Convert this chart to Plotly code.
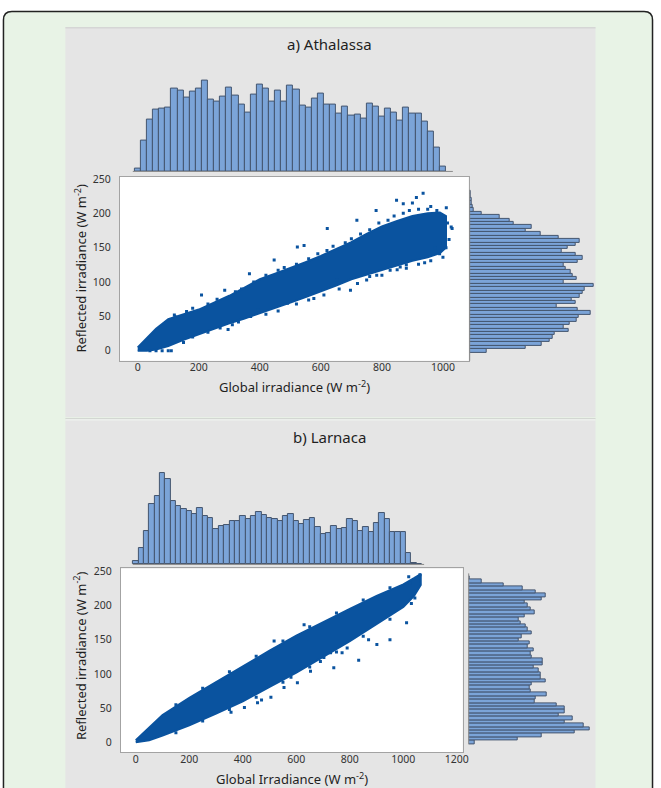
import plotly.graph_objects as go

W, H = 661, 788
def fx(p): return p / W
def fy(p): return 1 - p / H

FONT = "Noto Sans, Open Sans, sans-serif"
BLUE = "#0a539f"
BAR_FILL = "#7ba4d8"
BAR_LINE = "#44556e"

# ---------------- data: panel a) Athalassa ----------------
a_top_bin_start, a_top_bin_width = 0, 20
a_top_counts = [10, 93, 157, 187, 190, 192, 249, 243, 224, 240, 249, 274, 216, 210, 225,
                252, 228, 201, 178, 231, 261, 249, 210, 243, 210, 259, 246, 197, 191, 219,
                234, 200, 200, 175, 194, 169, 172, 159, 204, 194, 165, 188, 176, 154, 191,
                175, 175, 151, 121, 73, 15]
a_right_bin_start, a_right_bin_width = 0, 5
a_right_counts = [50, 169, 218, 241, 250, 256, 298, 283, 301, 323, 330, 366, 326, 263, 320,
                  308, 333, 342, 346, 374, 283, 323, 310, 306, 289, 283, 326, 342, 320, 278,
                  296, 320, 333, 269, 213, 169, 188, 133, 120, 91, 36, 12, 8, 6, 5, 3, 2]
# dense band outline (upper edge left->right, lower edge right->left)
a_band_x = [0, 30, 60, 100, 150, 200, 250, 300, 350, 400, 450, 500, 550, 600, 650, 700, 750,
            800, 850, 900, 950, 990, 1010,
            1010, 990, 950, 900, 850, 800, 750, 700, 650, 600, 550, 500, 450, 400, 350, 300,
            250, 200, 150, 100, 60, 30, 0]
a_band_y = [5, 18, 32, 46, 53, 60, 70, 80, 92, 104, 112, 120, 129, 138, 148, 158, 170,
            181, 189, 196, 200, 201, 196,
            150, 142, 136, 131, 124, 117, 110, 104, 95, 86, 78, 70, 62, 55, 47, 40,
            32, 25, 16, 7, 2, 0, 0]
# scattered points outside / along the dense band
a_pts_x = [935, 913, 848, 870, 781, 1011, 1027, 718, 621, 545, 523, 447, 366, 285, 209, 122,
           697, 783, 827, 653, 577, 491, 393, 296, 40, 60, 80, 100, 110, 1000, 989, 960, 900,
           880, 940, 975, 1030, 860, 760,
           120, 160, 180, 230, 260, 320, 340, 380, 420, 460, 480, 520, 560, 590, 620, 640, 680,
           700, 730, 760, 790, 820, 840, 870, 890, 920, 950, 980,
           150, 180, 230, 270, 310, 330, 370, 420, 460, 520, 560, 610, 660, 720, 750, 800, 850,
           880, 920, 960, 1000, 1010, 1020, 1015]
a_pts_y = [229, 223, 219, 214, 204, 208, 180, 190, 178, 153, 151, 132, 112, 88, 81, 50,
           88, 110, 117, 103, 76, 69, 59, 31, 0, 0, 0, 0, 0, 156, 141, 210, 215,
           125, 128, 150, 178, 122, 108,
           52, 57, 62, 68, 75, 86, 90, 100, 110, 117, 121, 126, 134, 141, 146, 152, 157,
           163, 170, 176, 186, 190, 196, 200, 204, 206, 206, 204,
           12, 20, 27, 33, 38, 42, 50, 53, 58, 68, 74, 81, 90, 98, 103, 110, 118,
           120, 126, 131, 136, 150, 162, 186]

# ---------------- data: panel b) Larnaca ----------------
b_top_bin_start, b_top_bin_width = 0, 20
b_top_counts = [10, 49, 102, 182, 206, 274, 256, 191, 175, 167, 162, 152, 169, 145, 139,
                107, 115, 118, 130, 132, 145, 136, 147, 157, 148, 140, 136, 132, 145, 151,
                132, 122, 134, 139, 114, 92, 95, 117, 108, 111, 136, 132, 102, 114, 97,
                124, 154, 138, 98, 98, 98, 34, 4, 2]
b_right_bin_start, b_right_bin_width = 0, 5
b_right_counts = [19, 149, 222, 322, 367, 350, 292, 317, 274, 292, 292, 267, 200, 204, 237,
                  187, 184, 190, 234, 220, 219, 212, 197, 225, 225, 192, 187, 197, 179, 184,
                  152, 162, 191, 179, 174, 159, 152, 170, 200, 187, 179, 169, 222, 234, 204,
                  164, 105, 39, 4]
b_band_x = [0, 50, 100, 200, 300, 400, 500, 600, 700, 800, 900, 1000, 1040, 1065,
            1065, 1040, 1000, 900, 800, 700, 600, 500, 400, 300, 200, 100, 50, 0]
b_band_y = [3, 22, 40, 65, 88, 112, 134, 156, 176, 195, 214, 231, 240, 246,
            230, 214, 198, 173, 148, 125, 102, 81, 60, 42, 25, 10, 3, 0]
b_pts_x = [1043, 901, 833, 740, 790, 771, 703, 653, 604, 554, 505, 455, 406, 356, 728,
           1012, 950, 1062, 1025, 629, 517, 870, 690, 580, 470,
           150, 250, 350, 450, 550, 650, 750, 850, 950, 1020,
           150, 250, 350, 450, 550, 650, 750, 850, 950, 1030]
b_pts_y = [211, 143, 120, 109, 138, 131, 124, 104, 87, 80, 66, 58, 51, 44, 131,
           175, 150, 245, 233, 172, 148, 150, 118, 95, 62,
           55, 79, 103, 126, 148, 169, 189, 208, 226, 242,
           14, 31, 48, 66, 88, 110, 132, 155, 180, 203]

a_xticks = [0, 200, 400, 600, 800, 1000]
b_xticks = [0, 200, 400, 600, 800, 1000, 1200]
yticks = [0, 50, 100, 150, 200, 250]


def centers(start, width, counts):
    return [start + i * width for i in range(len(counts))]


fig = go.Figure()

def bar_marker():
    return dict(color=BAR_FILL, line=dict(color=BAR_LINE, width=1))

# ---- panel a traces
fig.add_trace(go.Scatter(x=a_band_x, y=a_band_y, mode="lines", fill="toself",
                         fillcolor=BLUE, line=dict(color=BLUE, width=2),
                         xaxis="x", yaxis="y", hoverinfo="skip"))
fig.add_trace(go.Scatter(x=a_pts_x, y=a_pts_y, mode="markers",
                         marker=dict(color=BLUE, size=3, symbol="square"),
                         xaxis="x", yaxis="y"))
fig.add_trace(go.Bar(x=centers(a_top_bin_start, a_top_bin_width, a_top_counts), y=a_top_counts,
                     width=a_top_bin_width, marker=bar_marker(), xaxis="x2", yaxis="y2"))
fig.add_trace(go.Bar(y=centers(a_right_bin_start, a_right_bin_width, a_right_counts), x=a_right_counts,
                     orientation="h", width=a_right_bin_width, marker=bar_marker(),
                     xaxis="x3", yaxis="y3"))

# ---- panel b traces
fig.add_trace(go.Scatter(x=b_band_x, y=b_band_y, mode="lines", fill="toself",
                         fillcolor=BLUE, line=dict(color=BLUE, width=2),
                         xaxis="x4", yaxis="y4", hoverinfo="skip"))
fig.add_trace(go.Scatter(x=b_pts_x, y=b_pts_y, mode="markers",
                         marker=dict(color=BLUE, size=3, symbol="square"),
                         xaxis="x4", yaxis="y4"))
fig.add_trace(go.Bar(x=centers(b_top_bin_start, b_top_bin_width, b_top_counts), y=b_top_counts,
                     width=b_top_bin_width, marker=bar_marker(), xaxis="x5", yaxis="y5"))
fig.add_trace(go.Bar(y=centers(b_right_bin_start, b_right_bin_width, b_right_counts), x=b_right_counts,
                     orientation="h", width=b_right_bin_width, marker=bar_marker(),
                     xaxis="x6", yaxis="y6"))

hidden = dict(visible=False, showgrid=False, zeroline=False)
tickfont = dict(family=FONT, size=10.5, color="#333333")

def main_x(dom, rng, ticks, anchor):
    return dict(domain=dom, range=rng, tickvals=ticks, showgrid=False, zeroline=False,
                showline=True, mirror=True, linecolor="#a3a3a3", linewidth=1,
                ticks="", tickfont=tickfont, anchor=anchor, ticklabelstandoff=-3)

def main_y(dom, rng, anchor):
    return dict(domain=dom, range=rng, tickvals=yticks, showgrid=False, zeroline=False,
                showline=True, mirror=True, linecolor="#a3a3a3", linewidth=1,
                ticks="", tickfont=tickfont, anchor=anchor, ticklabelstandoff=6)

# panel a geometry (pixels)
a_x_dom = [fx(121), fx(473)]
a_y_dom = [fy(358), fy(173)]
a_x_rng = [-58.4, 1084.4]
a_y_rng = [-14.45, 252.9]
# panel b geometry
b_x_dom = [fx(122), fx(467)]
b_y_dom = [fy(752), fy(567)]
b_x_rng = [-55.6, 1222]
b_y_rng = [-14.5, 254.3]

shapes = [
    # outer rounded frame
    dict(type="path", xref="paper", yref="paper",
         path=f"M {fx(3.5)},{fy(15)} Q {fx(3.5)},{fy(6.5)} {fx(12)},{fy(6.5)} L {fx(650)},{fy(6.5)} "
              f"Q {fx(658.5)},{fy(6.5)} {fx(658.5)},{fy(15)} L {fx(658.5)},{fy(800)} L {fx(3.5)},{fy(800)} Z",
         fillcolor="#e8f3e6", line=dict(color="#222222", width=1.5), layer="below"),
    # gray panels
    dict(type="rect", xref="paper", yref="paper", x0=fx(66), x1=fx(601), y0=fy(415), y1=fy(22.5),
         fillcolor="#e5e5e5", line=dict(width=0), layer="below"),
    dict(type="rect", xref="paper", yref="paper", x0=fx(66), x1=fx(601), y0=fy(790), y1=fy(418),
         fillcolor="#e5e5e5", line=dict(width=0), layer="below"),
    dict(type="line", xref="paper", yref="paper", x0=fx(66), x1=fx(601), y0=fy(23), y1=fy(23),
         line=dict(color="#cdcdcd", width=1), layer="below"),
    dict(type="line", xref="paper", yref="paper", x0=fx(66), x1=fx(601), y0=fy(416.5), y1=fy(416.5),
         line=dict(color="#c8c8c8", width=1), layer="below"),
    dict(type="line", xref="paper", yref="paper", x0=fx(66), x1=fx(601), y0=fy(417.5), y1=fy(417.5),
         line=dict(color="#f4f4f4", width=1), layer="below"),
    # white plot areas
    dict(type="rect", xref="paper", yref="paper", x0=a_x_dom[0], x1=a_x_dom[1], y0=a_y_dom[0], y1=a_y_dom[1],
         fillcolor="white", line=dict(width=0), layer="below"),
    dict(type="rect", xref="paper", yref="paper", x0=b_x_dom[0], x1=b_x_dom[1], y0=b_y_dom[0], y1=b_y_dom[1],
         fillcolor="white", line=dict(width=0), layer="below"),
    # histogram base lines
    dict(type="line", xref="paper", yref="paper", x0=fx(134), x1=fx(457), y0=fy(167.5), y1=fy(167.5),
         line=dict(color="#8a8a8a", width=1)),
    dict(type="line", xref="paper", yref="paper", x0=fx(474), x1=fx(474), y0=fy(186), y1=fy(358),
         line=dict(color="#8a8a8a", width=1)),
    dict(type="line", xref="paper", yref="paper", x0=fx(134), x1=fx(428), y0=fy(563), y1=fy(563),
         line=dict(color="#8a8a8a", width=1)),
    dict(type="line", xref="paper", yref="paper", x0=fx(473), x1=fx(473), y0=fy(572), y1=fy(744),
         line=dict(color="#8a8a8a", width=1)),
]

def ann(text, x, y, size=13, angle=0):
    return dict(text=text, x=fx(x), y=fy(y), xref="paper", yref="paper", showarrow=False,
                xanchor="center", yanchor="middle", textangle=angle,
                font=dict(family=FONT, size=size, color="#1f1f1f"))

annotations = [
    ann("a) Athalassa", 333, 39.5, 15),
    ann("Global irradiance (W m<sup>-2</sup>)", 297, 384),
    ann("Reflected irradiance (W m<sup>-2</sup>)", 81, 265, angle=-90),
    ann("b) Larnaca", 333, 435, 15),
    ann("Global Irradiance (W m<sup>-2</sup>)", 295, 778),
    ann("Reflected irradiance (W m<sup>-2</sup>)", 81, 655, angle=-90),
]

fig.update_layout(
    width=W, height=H, margin=dict(l=0, r=0, t=0, b=0),
    paper_bgcolor="white", plot_bgcolor="rgba(0,0,0,0)",
    showlegend=False, bargap=0, font=dict(family=FONT),
    xaxis=main_x(a_x_dom, a_x_rng, a_xticks, "y"),
    yaxis=main_y(a_y_dom, a_y_rng, "x"),
    xaxis2=dict(hidden, domain=a_x_dom, range=a_x_rng, anchor="y2"),
    yaxis2=dict(hidden, domain=[fy(167.5), fy(66)], range=[0, 274 * 101.5 / 91.5], anchor="x2"),
    xaxis3=dict(hidden, domain=[fx(474), fx(601)], range=[0, 374 * 127 / 125], anchor="y3"),
    yaxis3=dict(hidden, domain=a_y_dom, range=a_y_rng, anchor="x3"),
    xaxis4=main_x(b_x_dom, b_x_rng, b_xticks, "y4"),
    yaxis4=main_y(b_y_dom, b_y_rng, "x4"),
    xaxis5=dict(hidden, domain=b_x_dom, range=b_x_rng, anchor="y5"),
    yaxis5=dict(hidden, domain=[fy(563), fy(466)], range=[0, 274 * 97 / 91.5], anchor="x5"),
    xaxis6=dict(hidden, domain=[fx(473), fx(601)], range=[0, 367 * 128 / 122], anchor="y6"),
    yaxis6=dict(hidden, domain=b_y_dom, range=b_y_rng, anchor="x6"),
    shapes=shapes, annotations=annotations,
)

fig.write_html("out.html")
